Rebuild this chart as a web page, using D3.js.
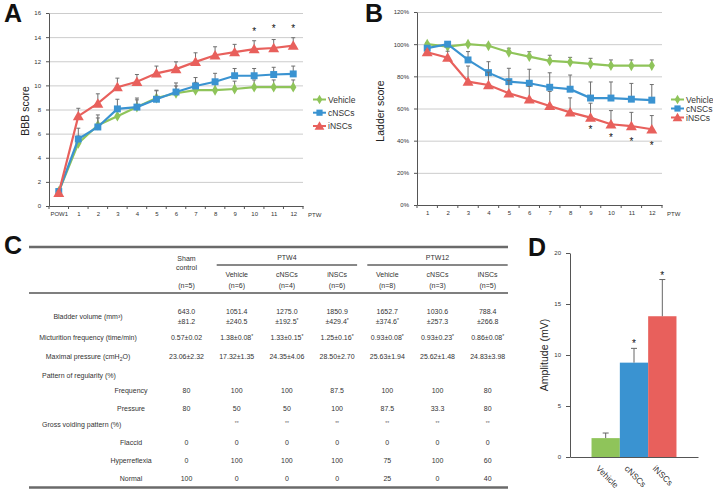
<!DOCTYPE html>
<html><head><meta charset="utf-8">
<script src="https://cdn.jsdelivr.net/npm/d3@7"></script>
<style>
body{margin:0;background:#fff}
svg{display:block}
text{font-family:"Liberation Sans",Arial,Helvetica,sans-serif}
</style>
</head><body>
<svg id="c" width="713" height="491"></svg>
<script>
// ---------- DATA ----------
const seriesNames = ["Vehicle", "cNSCs", "iNSCs"];
const seriesColors = ["#8fc45a", "#3a93d1", "#e8605c"];

// Panel A : BBB score
const catsA = ["POW1","1","2","3","4","5","6","7","8","9","10","11","12"];
const vehicleA    = [1.2, 5.2, 6.7, 7.45, 8.2, 8.95, 9.35, 9.6, 9.6, 9.7, 9.85, 9.85, 9.85];
const vehicleAErr = [0.2, 0.6, 0.6, 0.6, 0.6, 0.6, 0.6, 0.65, 0.65, 0.65, 0.6, 0.6, 0.6];
const cnscA       = [1.2, 5.55, 6.55, 8.05, 8.2, 8.85, 9.45, 9.95, 10.3, 10.8, 10.8, 10.9, 10.95];
const cnscAErr    = [0.2, 0.9, 1.0, 0.8, 0.75, 0.75, 0.75, 0.7, 0.7, 0.6, 0.6, 0.6, 0.65];
const inscA       = [1.1, 7.45, 8.5, 9.85, 10.3, 11.0, 11.35, 11.95, 12.5, 12.75, 13.0, 13.1, 13.3];
const inscAErr    = [0.2, 0.65, 0.8, 0.75, 0.6, 0.6, 0.6, 0.75, 0.7, 0.65, 0.7, 0.7, 0.65];
const starsACats  = ["10","11","12"];
const starsAVals  = [14.5, 14.75, 14.75];
const ticksA      = [0,2,4,6,8,10,12,14,16];

// Panel B : Ladder score (%)
const catsB = ["1","2","3","4","5","6","7","8","9","10","11","12"];
const vehicleB    = [100, 98.5, 100, 99, 95, 92.3, 89.6, 88.8, 87.7, 86.7, 86.6, 86.7];
const vehicleBErr = [1, 1.5, 0.5, 1, 2.5, 3, 3.5, 3, 3.5, 3.5, 3.6, 3.5];
const cnscB       = [97.5, 100, 90.2, 82.3, 76.7, 75.7, 73.2, 72, 66.5, 66.5, 65.8, 65.2];
const cnscBErr    = [1.5, 0.5, 5.2, 6.8, 8.3, 8.7, 9, 8.8, 10, 10, 9.8, 9.7];
const inscB       = [95, 91.6, 76.7, 74.6, 69.5, 65.7, 61.6, 57.6, 54.3, 50.2, 49.1, 47.1];
const inscBErr    = [1.5, 4, 9.7, 8, 8, 8, 9, 9, 9, 8.5, 8.5, 8.5];
const starsBCats  = ["9","10","11","12"];
const starsBVals  = [47.3, 42.3, 40.1, 37.3];
const ticksB      = [0,20,40,60,80,100,120];

// Panel C : table
const tableGroups   = ["Vehicle","cNSCs","iNSCs","Vehicle","cNSCs","iNSCs"];
const tableN        = ["(n=5)","(n=6)","(n=4)","(n=6)","(n=8)","(n=3)","(n=5)"];
const bladderMean   = ["643.0","1051.4","1275.0","1850.9","1652.7","1030.6","788.4"];
const bladderSD     = ["±81.2","±240.5","±192.5*","±429.4*","±374.6*","±257.3","±266.8"];
const micturition   = ["0.57±0.02","1.38±0.08*","1.33±0.15*","1.25±0.16*","0.93±0.08*","0.93±0.23*","0.86±0.08*"];
const maxPressure   = ["23.06±2.32","17.32±1.35","24.35±4.06","28.50±2.70","25.63±1.94","25.62±1.48","24.83±3.98"];
const regFrequency  = ["80","100","100","87.5","100","100","80"];
const regPressure   = ["80","50","50","100","87.5","33.3","80"];
const grossMarks    = ["","**","**","**","**","**","**"];
const flaccid       = ["0","0","0","0","0","0","0"];
const hyperreflexia = ["0","100","100","100","75","100","60"];
const normal        = ["100","0","0","0","25","0","40"];

// Panel D : amplitude
const catsD   = ["Vehicle","cNSCs","iNSCs"];
const ampD    = [1.85, 9.25, 13.8];
const ampDErr = [0.5, 1.4, 3.6];
const starsD  = [false, true, true];
const ticksD  = [0,5,10,15,20];

// ---------- HELPERS ----------
const svg = d3.select("#c");
const TXT = "#333";
const AX = "#555";
function styleAxis(g, fs){
  g.attr("font-family", null).attr("font-size", null);
  g.select(".domain").attr("stroke", AX).attr("stroke-width", 1);
  g.selectAll(".tick line").attr("stroke", AX);
  g.selectAll(".tick text").attr("fill", TXT).style("font-size", fs + "px");
}
function gridY(g, y, x0, x1, vals){
  g.append("g").attr("transform", `translate(${x0},0)`)
    .call(d3.axisLeft(y).tickValues(vals).tickSize(-(x1 - x0)).tickFormat(""))
    .call(s => { s.select(".domain").remove(); s.selectAll("line").attr("stroke", "#cccccc").attr("stroke-width", 1); });
}
const symTypes = [d3.symbolDiamond, d3.symbolSquare, d3.symbolTriangle];
const symSizes = [34, 48, 52];
function drawSeries(g, x, y, cats, vals, errs, i){
  const color = seriesColors[i];
  const pts = cats.map((c, k) => ({x: x(c), y: y(vals[k]), ye: y(vals[k] + errs[k])}));
  const eg = g.append("g").attr("stroke", "#6f6f6f").attr("stroke-width", 1);
  pts.forEach(p => {
    eg.append("line").attr("x1", p.x).attr("x2", p.x).attr("y1", p.y).attr("y2", p.ye);
    eg.append("line").attr("x1", p.x - 2).attr("x2", p.x + 2).attr("y1", p.ye).attr("y2", p.ye);
  });
  g.append("path").datum(pts).attr("fill", "none").attr("stroke", color).attr("stroke-width", 2.2)
    .attr("d", d3.line().x(d => d.x).y(d => d.y));
  g.selectAll(null).data(pts).join("path")
    .attr("transform", d => `translate(${d.x},${d.y + (i === 2 ? 1 : 0)})`)
    .attr("d", d3.symbol().type(symTypes[i]).size(symSizes[i])).attr("fill", color);
}
function legend(g, x, ys){
  seriesNames.forEach((n, i) => {
    const yy = ys[i];
    g.append("line").attr("x1", x).attr("x2", x + 13).attr("y1", yy).attr("y2", yy)
      .attr("stroke", seriesColors[i]).attr("stroke-width", 2);
    g.append("path").attr("transform", `translate(${x + 6.5},${yy + (i === 2 ? 1 : 0)})`)
      .attr("d", d3.symbol().type(symTypes[i]).size(symSizes[i] * 0.8)).attr("fill", seriesColors[i]);
    g.append("text").attr("x", x + 15).attr("y", yy + 3).attr("fill", TXT).style("font-size", "8.5px").text(n);
  });
}
function panelLetter(t, x, y){
  svg.append("text").attr("x", x).attr("y", y).style("font-size", "25px").style("font-weight", "bold").attr("fill", "#111").text(t);
}
function catTicks(g, x, y0){
  const s = x.step();
  const cats = x.domain();
  const xs = cats.map(c => x(c) - s / 2).concat([x(cats[cats.length - 1]) + s / 2]);
  g.selectAll(null).data(xs).join("line").attr("x1", d => d).attr("x2", d => d)
    .attr("y1", y0).attr("y2", y0 + 3).attr("stroke", AX);
}

// ---------- PANEL A ----------
{
  const g = svg.append("g");
  const xA = d3.scalePoint().domain(catsA).range([49, 303]).padding(0.5);
  const yA = d3.scaleLinear().domain([0, 16]).range([206, 13]);
  gridY(g, yA, 49, 303, ticksA.filter(v => v > 0));
  g.append("g").attr("transform", "translate(49,0)")
    .call(d3.axisLeft(yA).tickValues(ticksA).tickSize(3).tickSizeOuter(0).tickPadding(5))
    .call(s => styleAxis(s, 6));
  g.append("g").attr("transform", "translate(0,206)")
    .call(d3.axisBottom(xA).tickSize(0).tickSizeOuter(0).tickPadding(6))
    .call(s => styleAxis(s, 6));
  catTicks(g, xA, 206);
  g.append("text").attr("x", 308).attr("y", 216.5).attr("fill", TXT).style("font-size", "6px").text("PTW");
  [[vehicleA, vehicleAErr], [cnscA, cnscAErr], [inscA, inscAErr]].forEach((d, i) => drawSeries(g, xA, yA, catsA, d[0], d[1], i));
  starsACats.forEach((c, k) => g.append("text").attr("x", xA(c)).attr("y", yA(starsAVals[k]) + 4)
    .attr("text-anchor", "middle").style("font-size", "10px").attr("fill", "#111").text("*"));
  legend(g, 313, [99.5, 112.7, 126]);
  g.append("text").attr("transform", "translate(29,111) rotate(-90)").attr("text-anchor", "middle")
    .style("font-size", "10.5px").attr("fill", "#222").text("BBB score");
  panelLetter("A", 4, 22);
}

// ---------- PANEL B ----------
{
  const g = svg.append("g");
  const xB = d3.scalePoint().domain(catsB).range([417, 662]).padding(0.5);
  const yB = d3.scaleLinear().domain([0, 120]).range([205, 12]);
  gridY(g, yB, 417, 662, ticksB.filter(v => v > 0));
  g.append("g").attr("transform", "translate(417,0)")
    .call(d3.axisLeft(yB).tickValues(ticksB).tickSize(3).tickSizeOuter(0).tickPadding(5).tickFormat(d => d + "%"))
    .call(s => styleAxis(s, 6));
  g.append("g").attr("transform", "translate(0,205)")
    .call(d3.axisBottom(xB).tickSize(0).tickSizeOuter(0).tickPadding(6))
    .call(s => styleAxis(s, 6));
  catTicks(g, xB, 205);
  g.append("text").attr("x", 667).attr("y", 216).attr("fill", TXT).style("font-size", "6px").text("PTW");
  [[vehicleB, vehicleBErr], [cnscB, cnscBErr], [inscB, inscBErr]].forEach((d, i) => drawSeries(g, xB, yB, catsB, d[0], d[1], i));
  starsBCats.forEach((c, k) => g.append("text").attr("x", xB(c)).attr("y", yB(starsBVals[k]) + 4)
    .attr("text-anchor", "middle").style("font-size", "10px").attr("fill", "#111").text("*"));
  legend(g, 671, [99.5, 108.5, 117.5]);
  g.append("text").attr("transform", "translate(384,111) rotate(-90)").attr("text-anchor", "middle")
    .style("font-size", "10.5px").attr("fill", "#222").text("Ladder score");
  panelLetter("B", 365, 22);
}

// ---------- PANEL C (table) ----------
{
  const g = svg.append("g");
  const fs = 7;
  const colX = d3.scalePoint().domain(d3.range(7)).range([186.5, 487.7]);
  function cell(x, y, str, anchor){
    const t = g.append("text").attr("x", x).attr("y", y).attr("text-anchor", anchor || "middle")
      .attr("fill", TXT).style("font-size", fs + "px");
    const m = str.match(/^(.*?)(\*+)$/);
    if (m && m[1].length){ t.text(m[1]); t.append("tspan").attr("dy", -2).style("font-size", "5px").text(m[2]); }
    else t.text(str);
    return t;
  }
  function row(arr, y){ arr.forEach((s, i) => { if (s) cell(colX(i), y, s); }); }
  g.append("line").attr("x1", 29).attr("x2", 508).attr("y1", 247).attr("y2", 247).attr("stroke", "#6a6a6a").attr("stroke-width", 2.5);
  g.append("line").attr("x1", 29).attr("x2", 508).attr("y1", 293).attr("y2", 293).attr("stroke", "#555").attr("stroke-width", 1.6);
  g.append("line").attr("x1", 29).attr("x2", 508).attr("y1", 487.5).attr("y2", 487.5).attr("stroke", "#6a6a6a").attr("stroke-width", 2.5);
  g.append("line").attr("x1", colX(1) - 20).attr("x2", colX(3) + 20).attr("y1", 265).attr("y2", 265).attr("stroke", "#111").attr("stroke-width", 1);
  g.append("line").attr("x1", colX(4) - 20).attr("x2", colX(6) + 20).attr("y1", 265).attr("y2", 265).attr("stroke", "#111").attr("stroke-width", 1);
  cell(colX(0), 261, "Sham");
  cell(colX(0), 270, "control");
  cell(colX(2), 260, "PTW4");
  cell(colX(5), 260, "PTW12");
  tableGroups.forEach((s, i) => cell(colX(i + 1), 277, s));
  row(tableN, 287.5);
  const labX = 88, subX = 131, headX = 42;
  cell(labX, 318.5, "Bladder volume (mm³)");
  row(bladderMean, 313.5); row(bladderSD, 323.5);
  cell(labX, 340, "Micturition frequency (time/min)");
  row(micturition, 340);
  const mp = cell(labX, 359, "Maximal pressure (cmH");
  mp.append("tspan").attr("dy", 1.5).style("font-size", "5px").text("2");
  mp.append("tspan").attr("dy", -1.5).text("O)");
  row(maxPressure, 359);
  cell(headX, 377.5, "Pattern of regularity (%)", "start");
  cell(subX, 392.5, "Frequency"); row(regFrequency, 392.5);
  cell(subX, 410.5, "Pressure"); row(regPressure, 410.5);
  cell(headX, 426.5, "Gross voiding pattern (%)", "start");
  grossMarks.forEach((s, i) => { if (s) g.append("text").attr("x", colX(i)).attr("y", 425).attr("text-anchor", "middle").attr("fill", "#666").style("font-size", "5px").text(s); });
  cell(subX, 444.5, "Flaccid"); row(flaccid, 444.5);
  cell(subX, 462.5, "Hyperreflexia"); row(hyperreflexia, 462.5);
  cell(subX, 480.5, "Normal"); row(normal, 480.5);
  panelLetter("C", 4, 254);
}

// ---------- PANEL D ----------
{
  const g = svg.append("g");
  const xD = d3.scaleBand().domain(catsD).range([570, 698]).paddingInner(0).paddingOuter(0.76);
  const yD = d3.scaleLinear().domain([0, 20]).range([457, 253]);
  g.selectAll(null).data(catsD).join("rect")
    .attr("x", d => xD(d)).attr("width", xD.bandwidth())
    .attr("y", (d, i) => yD(ampD[i])).attr("height", (d, i) => yD(0) - yD(ampD[i]))
    .attr("fill", (d, i) => seriesColors[i]);
  catsD.forEach((c, i) => {
    const cx = xD(c) + xD.bandwidth() / 2, yt = yD(ampD[i]), ye = yD(ampD[i] + ampDErr[i]);
    g.append("line").attr("x1", cx).attr("x2", cx).attr("y1", yt).attr("y2", ye).attr("stroke", "#666");
    g.append("line").attr("x1", cx - 3).attr("x2", cx + 3).attr("y1", ye).attr("y2", ye).attr("stroke", "#666");
    if (starsD[i]) g.append("text").attr("x", cx).attr("y", ye - 1).attr("text-anchor", "middle")
      .style("font-size", "10px").attr("fill", "#111").text("*");
  });
  g.append("g").attr("transform", "translate(570,0)")
    .call(d3.axisLeft(yD).tickValues(ticksD).tickSize(4).tickSizeOuter(0).tickPadding(5))
    .call(s => styleAxis(s, 6));
  g.append("g").attr("transform", "translate(0,457)")
    .call(d3.axisBottom(xD).tickSize(0).tickSizeOuter(0))
    .call(s => styleAxis(s, 8.5))
    .call(s => s.selectAll(".tick text").attr("x", 0).attr("y", 0).attr("dy", "0.35em")
      .attr("transform", "translate(-8,10) rotate(45)").style("text-anchor", "start"));
  g.append("text").attr("transform", "translate(548,355) rotate(-90)").attr("text-anchor", "middle")
    .style("font-size", "10.5px").attr("fill", "#222").text("Amplitude (mV)");
  panelLetter("D", 528, 256);
}
</script>
</body></html>
